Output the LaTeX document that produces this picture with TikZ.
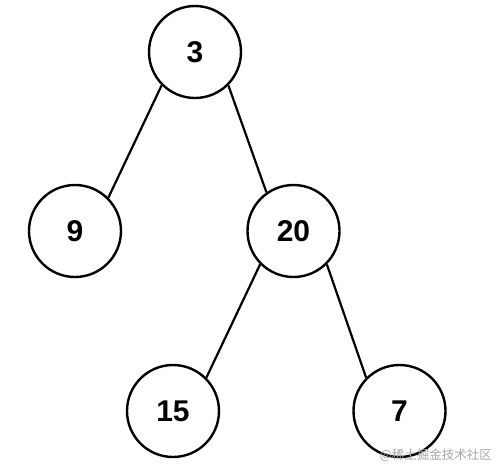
\documentclass[tikz,border=0pt]{standalone}
\usepackage{fontspec}
\setmainfont{Liberation Sans}
\newfontfamily\cjk{Noto Sans CJK SC}
\begin{document}
\begin{tikzpicture}[x=1pt,y=-1pt,
  treenode/.style={circle,draw=black,line width=2.4pt,minimum size=92pt,inner sep=0pt,
    font=\fontsize{30}{36}\selectfont\bfseries},
  edge/.style={line width=2.2pt,black}]
\useasboundingbox (0,0) rectangle (496,464);
\node[treenode] (n3)  at (195,52)  {3};
\node[treenode] (n9)  at (75,231)  {9};
\node[treenode] (n20) at (293.5,231) {20};
\node[treenode] (n15) at (173,411) {15};
\node[treenode] (n7)  at (399.5,411) {7};
\draw[edge] (n3.225) -- (n9.45);
\draw[edge] (n3.-45) -- (n20.125);
\draw[edge] (n20.225) -- (n15.45);
\draw[edge] (n20.-45) -- (n7.135);
\node[anchor=east,text=black!35,font=\cjk\fontsize{12.5}{14}\selectfont,inner sep=0pt] (wm) at (492,455) {@稀土掘金技术社区};
\end{tikzpicture}
\end{document}
